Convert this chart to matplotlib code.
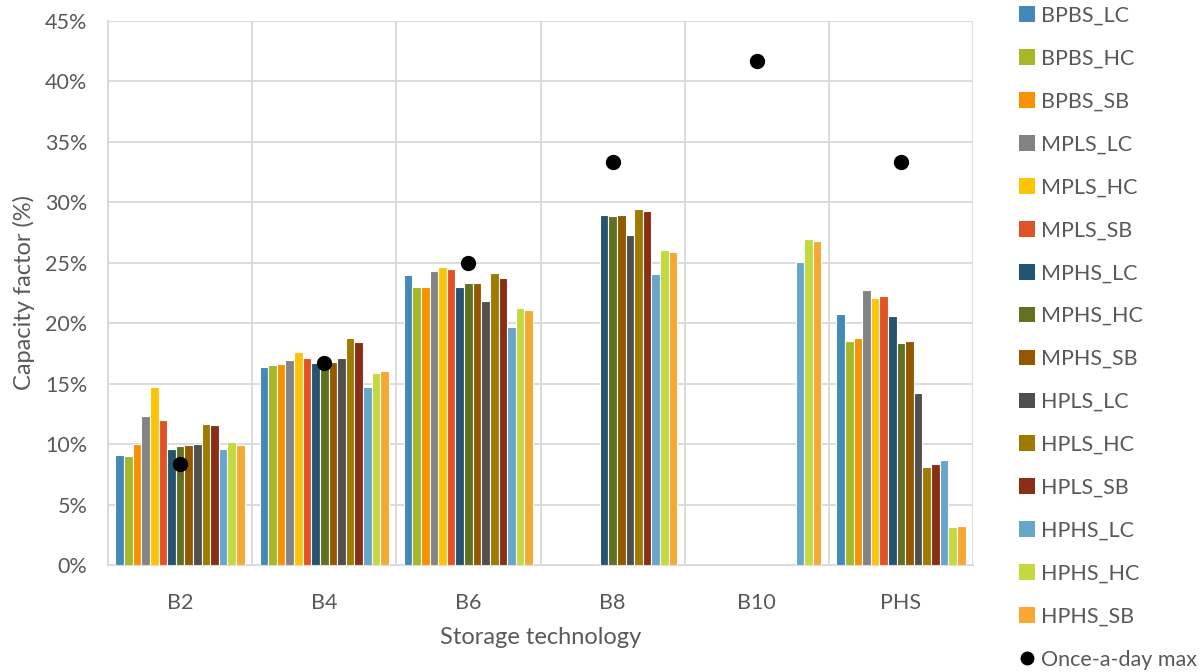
import matplotlib
matplotlib.use("Agg")
import matplotlib.pyplot as plt
import numpy as np
from matplotlib.ticker import PercentFormatter, FixedLocator
from matplotlib.lines import Line2D
from matplotlib.patches import Patch

plt.rcParams['font.family'] = ['Lato', 'DejaVu Sans']

categories = ["B2", "B4", "B6", "B8", "B10", "PHS"]
nan = np.nan
series_names = ["BPBS_LC", "BPBS_HC", "BPBS_SB", "MPLS_LC", "MPLS_HC", "MPLS_SB",
                "MPHS_LC", "MPHS_HC", "MPHS_SB", "HPLS_LC", "HPLS_HC", "HPLS_SB",
                "HPHS_LC", "HPHS_HC", "HPHS_SB"]
# capacity factor (%) per series, one value per category
BPBS_LC = [9.07, 16.38, 23.97, nan, nan, 20.8]
BPBS_HC = [9.0, 16.57, 23.03, nan, nan, 18.5]
BPBS_SB = [10.0, 16.63, 22.97, nan, nan, 18.8]
MPLS_LC = [12.3, 16.96, 24.3, nan, nan, 22.75]
MPLS_HC = [14.7, 17.6, 24.64, nan, nan, 22.06]
MPLS_SB = [12.0, 17.15, 24.5, nan, nan, 22.22]
MPHS_LC = [9.6, 16.68, 23.03, 28.94, nan, 20.56]
MPHS_HC = [9.85, 16.5, 23.33, 28.89, nan, 18.4]
MPHS_SB = [9.95, 16.77, 23.33, 28.94, nan, 18.53]
HPLS_LC = [10.0, 17.1, 21.86, 27.33, nan, 14.2]
HPLS_HC = [11.66, 18.78, 24.19, 29.47, nan, 8.08]
HPLS_SB = [11.58, 18.47, 23.78, 29.28, nan, 8.33]
HPHS_LC = [9.6, 14.7, 19.69, 24.11, 25.05, 8.72]
HPHS_HC = [10.15, 15.9, 21.28, 26.03, 27.0, 3.17]
HPHS_SB = [9.95, 16.07, 21.11, 25.86, 26.8, 3.25]
once_a_day_max = [8.33, 16.67, 25.0, 33.33, 41.67, 33.33]

series_values = [BPBS_LC, BPBS_HC, BPBS_SB, MPLS_LC, MPLS_HC, MPLS_SB,
                 MPHS_LC, MPHS_HC, MPHS_SB, HPLS_LC, HPLS_HC, HPLS_SB,
                 HPHS_LC, HPHS_HC, HPHS_SB]
colors = ["#4389B7", "#A6B727", "#F69200", "#838383", "#FEC306", "#DF5327",
          "#255470", "#637021", "#935800", "#4F4F4F", "#9E7A00", "#8A2E15",
          "#65A6CA", "#C4D83F", "#F8A830"]

txt = "#595959"
grid = "#D9D9D9"

fig = plt.figure(figsize=(12.03, 6.72), dpi=100)
ax = fig.add_axes([108/1203, 1-565/672, (973-108)/1203, (565-21)/672])

x = np.arange(len(categories))
n = len(series_names)
group_w = 0.897
bw = group_w / n
for i, (name, vals, c) in enumerate(zip(series_names, series_values, colors)):
    v = np.array(vals, dtype=float) / 100.0
    pos = x - group_w/2 + bw*(i+0.5)
    ax.bar(pos, np.nan_to_num(v), width=bw, color=c, edgecolor="white",
           linewidth=0.8, zorder=3, label=name)

ax.scatter(x, np.array(once_a_day_max)/100.0, s=100, color="black", zorder=5,
           label="Once-a-day max")

ax.set_xlim(-0.5, len(categories)-0.5)
ax.set_ylim(0, 0.45)
ax.yaxis.set_major_locator(FixedLocator(np.arange(0, 0.451, 0.05)))
ax.yaxis.set_major_formatter(PercentFormatter(1.0, decimals=0))
ax.set_xticks(x)
ax.set_xticklabels(categories)
ax.set_xticks(np.arange(-0.5, len(categories)), minor=True)
ax.grid(axis="y", which="major", color=grid, linewidth=1.3, zorder=0)
ax.grid(axis="x", which="minor", color=grid, linewidth=1.3, zorder=0)
ax.grid(axis="x", which="major", visible=False)
for s in ["top", "right"]:
    ax.spines[s].set_visible(False)
for s in ["left", "bottom"]:
    ax.spines[s].set_color(grid)
    ax.spines[s].set_linewidth(1.3)
ax.tick_params(axis="both", which="both", length=0, colors=txt, labelsize=15.5)
ax.tick_params(axis="x", pad=20)
ax.tick_params(axis="y", pad=15)

ax.set_ylabel("Capacity factor (%)", fontsize=17, color=txt, labelpad=7)
ax.set_xlabel("Storage technology", fontsize=17, color=txt, labelpad=10)

handles = [Patch(facecolor=c, edgecolor="none") for c in colors]
handles.append(Line2D([], [], marker="o", linestyle="none", color="black", markersize=9))
labels = series_names + ["Once-a-day max"]
fig.legend(handles, labels, loc="upper left", bbox_to_anchor=(1010/1203, 1+3/672),
           frameon=False, fontsize=15.5, labelcolor=txt, labelspacing=1.065,
           handlelength=0.75, handleheight=0.75, handletextpad=0.3, borderaxespad=0)

fig.savefig("out.png", dpi=100)
